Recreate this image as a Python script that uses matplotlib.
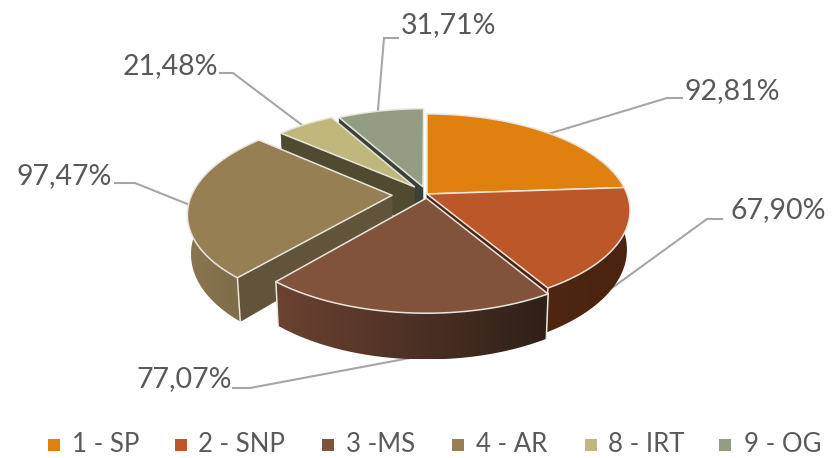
import numpy as np
import matplotlib
matplotlib.use('Agg')
import matplotlib.pyplot as plt
from matplotlib.colors import LinearSegmentedColormap
from matplotlib.patches import Polygon, Rectangle

names = ['1 - SP', '2 - SNP', '3 -MS', '4 - AR', '8 - IRT', '9 - OG']
values = [92.81, 67.90, 77.07, 97.47, 21.48, 31.71]
value_labels = ['92,81%', '67,90%', '77,07%', '97,47%', '21,48%', '31,71%']

top_colors = ['#e0810f', '#bb5729', '#81533c', '#977f54', '#bfb77b', '#929d83']
wall_colors = ['#5a3a10', '#4c2410', '#33221a', '#62543a', '#4f4a30', '#3a4238']
rim_left = ['#7a4c10', '#4e2610', '#6b4232', '#8a7650', '#6f6a45', '#5a6450']
rim_right = ['#7a4c10', '#4a2410', '#2f2018', '#7a6845', '#6f6a45', '#5a6450']
explode = [0, 0, 0.045, 0.175, 0.10, 0.08]
draw_order = [5, 4, 0, 1, 3, 2]
edge = '#e8e5df'

# leader lines and label spots, in pixels of the figure
label_pos = [(732, 91), (778, 210), (184, 379), (64, 176), (170, 66), (448, 25)]
leader_x = [(682, 667, 548), (722, 707, 612), (233, 250, 410),
            (115, 135, 190), (220, 233, 302), (398, 384, 378)]
leader_y = [(98, 98, 134), (219, 219, 288), (388, 388, 358),
            (183, 183, 205), (73, 73, 125), (38, 38, 110)]

legend_box_x = [48, 175, 322, 452, 585, 719]
legend_text_x = [72, 198, 346, 476, 608, 744]

# perspective of the disc
cx, cy = 427, 194
rx, ry = 200, 93.7
k = 0.171
depth = 38
shrink = 0.985

plt.rcParams['font.family'] = ['Lato', 'DejaVu Sans']

fig = plt.figure(figsize=(8.32, 4.58), dpi=100)
ax = fig.add_axes([0, 0, 1, 1])
ax.axis('off')


def project(u, v):
    d = 1 + k * v
    return cx + rx * u / d, cy - ry * v / d


def project_low(u, v):
    d = 1 + k * v
    return cx + rx * u / d * shrink, cy - ry * v / d + depth / d


z = 2
angles = np.cumsum([0] + values) / sum(values) * 2 * np.pi

for i in draw_order:
    t0, t1 = angles[i], angles[i + 1]
    mid = (t0 + t1) / 2
    ou, ov = explode[i] * np.sin(mid), explode[i] * np.cos(mid)
    th = np.linspace(t0, t1, 80)
    u = np.sin(th) + ou
    v = np.cos(th) + ov

    xt, yt = project(u, v)
    xb, yb = project_low(u, v)
    ax0, ay0 = project(ou, ov)
    bx0, by0 = project_low(ou, ov)

    # outer wall with a left to right shade
    rim = Polygon(np.column_stack([np.r_[xt, xb[::-1]], np.r_[yt, yb[::-1]]]),
                  closed=True, facecolor='none', edgecolor='none', zorder=z)
    ax.add_patch(rim)
    cmap = LinearSegmentedColormap.from_list('rim', [rim_left[i], rim_right[i]])
    im = ax.imshow(np.linspace(0, 1, 256)[None, :], cmap=cmap, aspect='auto',
                   extent=(min(xt.min(), xb.min()), max(xt.max(), xb.max()),
                           max(yt.max(), yb.max()), min(yt.min(), yb.min())),
                   interpolation='bilinear', zorder=z)
    im.set_clip_path(rim)
    z += 1

    # cut faces that look at the viewer
    for t, xe, ye, xl, yl, seen in [(t0, xt[0], yt[0], xb[0], yb[0], np.sin(t0) < -1e-6),
                                    (t1, xt[-1], yt[-1], xb[-1], yb[-1], np.sin(t1) > 1e-6)]:
        if seen:
            ax.add_patch(Polygon([(ax0, ay0), (xe, ye), (xl, yl), (bx0, by0)], closed=True,
                                 facecolor=wall_colors[i], edgecolor=wall_colors[i],
                                 linewidth=0.4, zorder=z))
            z += 1

    # light line down the front corners
    for j in [0, -1]:
        if v[j] < 0:
            ax.plot([xt[j], xb[j]], [yt[j], yb[j]], color=edge, lw=1.1, zorder=z + 1)

    ax.add_patch(Polygon(np.column_stack([np.r_[ax0, xt], np.r_[ay0, yt]]), closed=True,
                         facecolor=top_colors[i], edgecolor=edge, linewidth=1.1,
                         joinstyle='round', zorder=z))
    z += 2

for i in range(len(values)):
    ax.plot(leader_x[i], leader_y[i], color='#a6a6a6', lw=1.5, zorder=1,
            solid_joinstyle='miter')
    ax.text(label_pos[i][0], label_pos[i][1], value_labels[i], fontsize=20.5,
            color='#595959', ha='center', va='center', zorder=z)

for i in range(len(names)):
    ax.add_patch(Rectangle((legend_box_x[i], 439), 12, 12, facecolor=top_colors[i],
                           edgecolor='none', zorder=z))
    ax.text(legend_text_x[i], 445, names[i], fontsize=18.5, color='#595959',
            ha='left', va='center', zorder=z)

ax.set_xlim(0, 832)
ax.set_ylim(458, 0)

fig.savefig('out.png', dpi=100)
